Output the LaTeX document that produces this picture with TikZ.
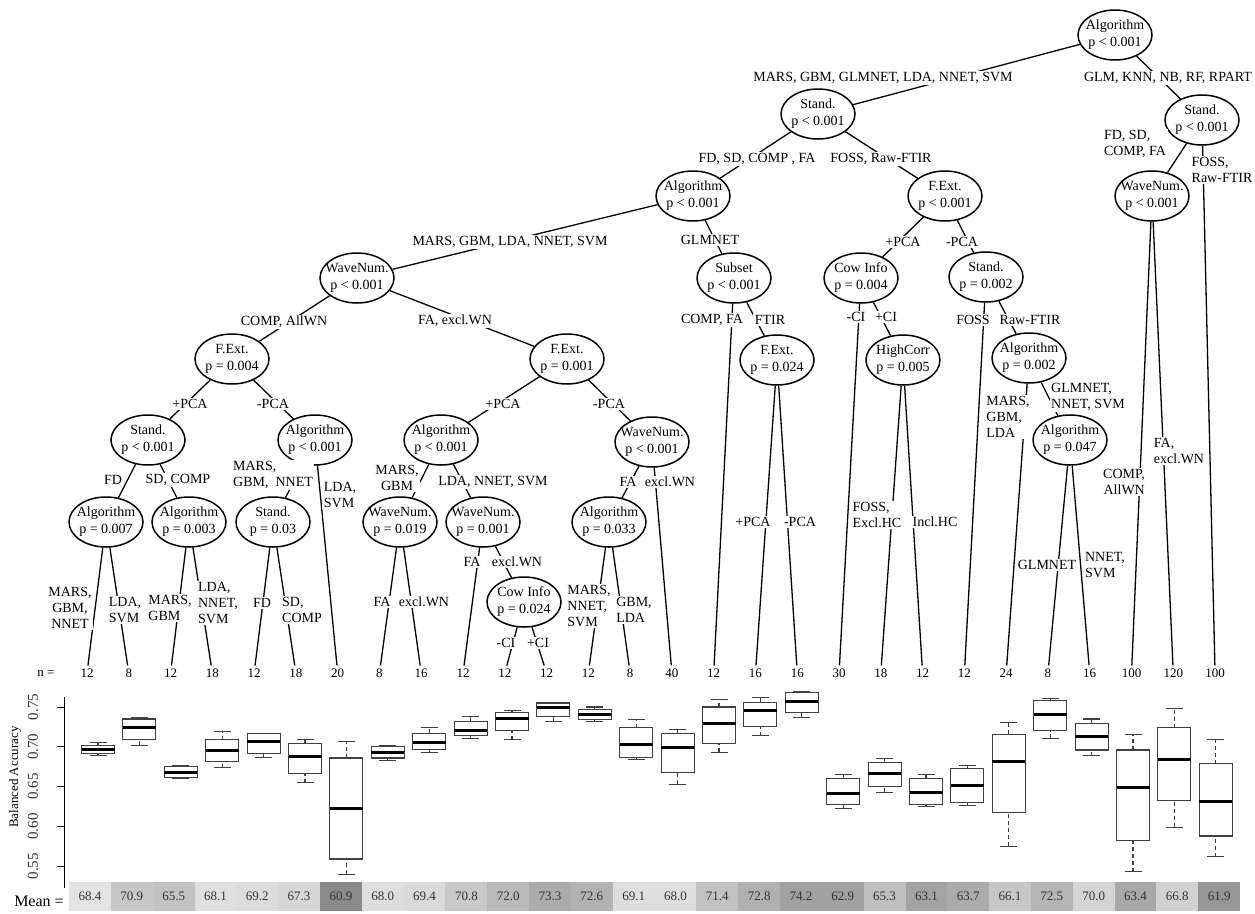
\documentclass[tikz,border=0pt]{standalone}
\usepackage{fontspec}
\setmainfont{Liberation Serif}
\usetikzlibrary{shapes.geometric}
\newcommand\treefont{\fontsize{14}{17}\selectfont}
\newcommand\labfont{\fontsize{14}{16}\selectfont}
\newcommand\smallfont{\fontsize{13}{15}\selectfont}
\newcommand\accy[1]{707+(0.75-#1)*796}
\tikzset{
  splitnode/.style={ellipse,draw,line width=1.5pt,minimum width=74pt,minimum height=50pt,inner sep=-14pt,align=center,font=\treefont,execute at begin node=\rule{0pt}{21pt}},
  edgelab/.style={fill=white,inner sep=1.5pt,font=\labfont,align=left},
  leafn/.style={inner sep=3pt,font=\smallfont},
  conn/.style={line width=1.3pt},
  meancell/.style={minimum width=41.82pt,minimum height=29pt,inner sep=0pt,font=\smallfont,text=black!80},
  boxln/.style={line width=1.1pt,draw=black!75},
}
\begin{document}
\begin{tikzpicture}[x=1pt,y=-1pt]
	\useasboundingbox (0,0) rectangle (1255,913);
	\fill[white] (0,0) rectangle (1255,913);
	\node[splitnode] (root) at (1115,35) {Algorithm\\p < 0.001};
	\node[splitnode] (standL) at (818,114) {Stand.\\p < 0.001};
	\node[splitnode] (standR) at (1202,120) {Stand.\\p < 0.001};
	\node[splitnode] (algA) at (693,196) {Algorithm\\p < 0.001};
	\node[splitnode] (fextA) at (945,196) {F.Ext.\\p < 0.001};
	\node[splitnode] (waveR) at (1152,196) {WaveNum.\\p < 0.001};
	\node[splitnode] (waveL) at (357,278) {WaveNum.\\p < 0.001};
	\node[splitnode] (subset) at (734,278) {Subset\\p < 0.001};
	\node[splitnode] (cowA) at (861,278) {Cow Info\\p = 0.004};
	\node[splitnode] (standD) at (986,277) {Stand.\\p = 0.002};
	\node[splitnode] (fextL) at (232,359) {F.Ext.\\p = 0.004};
	\node[splitnode] (fextM) at (567,359) {F.Ext.\\p = 0.001};
	\node[splitnode] (fextS) at (777,360) {F.Ext.\\p = 0.024};
	\node[splitnode] (hicorr) at (903,360) {HighCorr\\p = 0.005};
	\node[splitnode] (algB) at (1029,358) {Algorithm\\p = 0.002};
	\node[splitnode] (standE) at (148,440) {Stand.\\p < 0.001};
	\node[splitnode] (algC) at (315,440) {Algorithm\\p < 0.001};
	\node[splitnode] (algD) at (441,440) {Algorithm\\p < 0.001};
	\node[splitnode] (waveM) at (652,442) {WaveNum.\\p < 0.001};
	\node[splitnode] (algE) at (1070,440) {Algorithm\\p = 0.047};
	\node[splitnode] (algF) at (106,522) {Algorithm\\p = 0.007};
	\node[splitnode] (algG) at (189,522) {Algorithm\\p = 0.003};
	\node[splitnode] (standF) at (273,522) {Stand.\\p = 0.03};
	\node[splitnode] (waveN) at (400,522) {WaveNum.\\p = 0.019};
	\node[splitnode] (waveO) at (483,522) {WaveNum.\\p = 0.001};
	\node[splitnode] (algH) at (609,522) {Algorithm\\p = 0.033};
	\node[splitnode] (cowB) at (524,602) {Cow Info\\p = 0.024};
	\node[leafn] (nlab) at (46,673) {n =};
	\foreach \nn [count=\i from 0] in {12,8,12,18,12,18,20,8,16,12,12,12,12,8,40,12,16,16,30,18,12,12,24,8,16,100,120,100}
		\node[leafn] (n\i) at ({87+41.78*\i},673) {\nn};
	\draw[conn] (root)--(standL) (root)--(standR);
	\draw[conn] (standL)--(algA) (standL)--(fextA) (standR)--(waveR) (standR)--(n27);
	\draw[conn] (algA)--(waveL) (algA)--(subset) (fextA)--(cowA) (fextA)--(standD);
	\draw[conn] (waveR)--(n25) (waveR)--(n26);
	\draw[conn] (waveL)--(fextL) (waveL)--(fextM) (subset)--(n15) (subset)--(fextS);
	\draw[conn] (cowA)--(n18) (cowA)--(hicorr) (standD)--(n21) (standD)--(algB);
	\draw[conn] (fextL)--(standE) (fextL)--(algC) (fextM)--(algD) (fextM)--(waveM);
	\draw[conn] (fextS)--(n16) (fextS)--(n17) (hicorr)--(n19) (hicorr)--(n20);
	\draw[conn] (algB)--(n22) (algB)--(algE) (algE)--(n23) (algE)--(n24);
	\draw[conn] (standE)--(algF) (standE)--(algG) (algC)--(standF) (algC)--(n6);
	\draw[conn] (algD)--(waveN) (algD)--(waveO) (waveM)--(algH) (waveM)--(n14);
	\draw[conn] (algF)--(n0) (algF)--(n1) (algG)--(n2) (algG)--(n3);
	\draw[conn] (standF)--(n4) (standF)--(n5) (waveN)--(n7) (waveN)--(n8);
	\draw[conn] (waveO)--(n9) (waveO)--(cowB) (cowB)--(n10) (cowB)--(n11);
	\draw[conn] (algH)--(n12) (algH)--(n13);
	\node[edgelab] (eRootL) at (883,78) {MARS, GBM, GLMNET, LDA, NNET, SVM};
	\node[edgelab] (eRootR) at (1168,78) {GLM, KNN, NB, RF, RPART};
	\node[edgelab] (eStLa) at (757,159) {FD, SD, COMP , FA};
	\node[edgelab] (eStLb) at (881,159) {FOSS, Raw-FTIR};
	\node[edgelab] (eStRa) at (1135,144) {FD, SD,\\COMP, FA};
	\node[edgelab] (eStRb) at (1222,170) {FOSS,\\Raw-FTIR};
	\node[edgelab] (eAlgAa) at (510,242) {MARS, GBM, LDA, NNET, SVM};
	\node[edgelab] (eAlgAb) at (710,240) {GLMNET};
	\node[edgelab] (eFxAa) at (903,242) {+PCA};
	\node[edgelab] (eFxAb) at (962,242) {-PCA};
	\node[edgelab,align=right] (eWvRa) at (1124,482) {COMP,\\AllWN};
	\node[edgelab] (eWvRb) at (1179,451) {FA,\\excl.WN};
	\node[edgelab] (eWvLa) at (284,322) {COMP, AllWN};
	\node[edgelab] (eWvLb) at (455,321) {FA, excl.WN};
	\node[edgelab] (eSubA) at (712,320) {COMP, FA};
	\node[edgelab] (eSubB) at (770,320) {FTIR};
	\node[edgelab] (eCowAa) at (856,317) {-CI};
	\node[edgelab] (eCowAb) at (886,317) {+CI};
	\node[edgelab] (eStDa) at (973,320) {FOSS};
	\node[edgelab] (eStDb) at (1030,320) {Raw-FTIR};
	\node[edgelab] (eFxLa) at (190,404) {+PCA};
	\node[edgelab] (eFxLb) at (273,404) {-PCA};
	\node[edgelab] (eFxMa) at (503,404) {+PCA};
	\node[edgelab] (eFxMb) at (609,404) {-PCA};
	\node[edgelab] (eFxSa) at (753,522) {+PCA};
	\node[edgelab] (eFxSb) at (800,522) {-PCA};
	\node[edgelab] (eHiCa) at (877,515) {FOSS,\\Excl.HC};
	\node[edgelab] (eHiCb) at (935,522) {Incl.HC};
	\node[edgelab] (eAlgBa) at (1008,417) {MARS,\\GBM,\\LDA};
	\node[edgelab] (eAlgBb) at (1088,397) {GLMNET,\\NNET, SVM};
	\node[edgelab] (eAlgEa) at (1047,565) {GLMNET};
	\node[edgelab] (eAlgEb) at (1105,565) {NNET,\\SVM};
	\node[edgelab] (eStEa) at (113,480) {FD};
	\node[edgelab] (eStEb) at (178,480) {SD, COMP};
	\node[edgelab] (eAlgCa) at (273,475) {MARS,\\GBM,\enspace NNET};
	\node[edgelab] (eAlgCb) at (340,495) {LDA,\\SVM};
	\node[edgelab,align=center] (eAlgDa) at (397,478) {MARS,\\GBM};
	\node[edgelab] (eAlgDb) at (493,482) {LDA, NNET, SVM};
	\node[edgelab] (eWvMa) at (628,482) {FA};
	\node[edgelab] (eWvMb) at (670,482) {excl.WN};
	\node[edgelab,align=center] (eAlgFa) at (70,608) {MARS,\\GBM,\\NNET};
	\node[edgelab] (eAlgFb) at (125,610) {LDA,\\SVM};
	\node[edgelab] (eAlgGa) at (170,608) {MARS,\\GBM};
	\node[edgelab] (eAlgGb) at (218,603) {LDA,\\NNET,\\SVM};
	\node[edgelab] (eStFa) at (262,603) {FD};
	\node[edgelab] (eStFb) at (302,610) {SD,\\COMP};
	\node[edgelab] (eWvNa) at (382,602) {FA};
	\node[edgelab] (eWvNb) at (424,602) {excl.WN};
	\node[edgelab] (eWvOa) at (472,562) {FA};
	\node[edgelab] (eWvOb) at (517,562) {excl.WN};
	\node[edgelab] (eCowBa) at (506,643) {-CI};
	\node[edgelab] (eCowBb) at (538,643) {+CI};
	\node[edgelab] (eAlgHa) at (589,606) {MARS,\\NNET,\\SVM};
	\node[edgelab] (eAlgHb) at (634,610) {GBM,\\LDA};
	\draw[line width=1pt] (64,697) -- (64,888);
	\foreach \t [count=\k] in {0.55,0.60,0.65,0.70,0.75}{
		\draw[line width=1pt] (57,{\accy{\t}}) -- (64,{\accy{\t}});
		\node[rotate=90,font=\fontsize{15}{15}\selectfont,text=black!80] (tk\k) at (33,{\accy{\t}}) {\t};
	}
	\node[rotate=90,font=\smallfont] (ylab) at (15,777) {Balanced Accuracy};
	\foreach \lo/\qa/\md/\qb/\hi [count=\i from 0] in {
		.689/.692/.697/.702/.705, .702/.709/.724/.735/.737, .660/.662/.668/.675/.677, .674/.681/.695/.709/.719,
		.687/.692/.707/.717/.717, .655/.666/.688/.704/.709, .540/.559/.623/.686/.707, .683/.686/.693/.700/.701,
		.693/.697/.706/.717/.724, .711/.714/.720/.732/.738, .709/.721/.735/.743/.746, .732/.738/.749/.755/.756,
		.732/.734/.740/.747/.750, .684/.687/.703/.724/.734, .653/.668/.699/.717/.722, .693/.704/.729/.750/.760,
		.714/.726/.745/.756/.762, .737/.743/.757/.768/.770, .622/.627/.641/.660/.665, .643/.650/.667/.680/.685,
		.625/.628/.643/.660/.665, .626/.630/.651/.673/.677, .575/.617/.681/.716/.731, .711/.720/.741/.758/.761,
		.689/.696/.713/.729/.735, .543/.582/.649/.696/.715, .599/.633/.684/.724/.748, .562/.588/.631/.679/.709}{
		\pgfmathsetmacro\bx{98+41.4*\i}
		\draw[boxln,dash pattern=on 4pt off 3pt] (\bx,{\accy{\lo}}) -- (\bx,{\accy{\qa}}) (\bx,{\accy{\qb}}) -- (\bx,{\accy{\hi}});
		\draw[boxln] (\bx-8.5,{\accy{\lo}}) -- (\bx+8.5,{\accy{\lo}}) (\bx-8.5,{\accy{\hi}}) -- (\bx+8.5,{\accy{\hi}});
		\draw[boxln] (\bx-16.5,{\accy{\qa}}) rectangle (\bx+16.5,{\accy{\qb}});
		\draw[line width=3pt] (\bx-16.5,{\accy{\md}}) -- (\bx+16.5,{\accy{\md}});
	}
	\node[font=\fontsize{16}{16}\selectfont] (meanlab) at (39,901) {Mean =};
	\foreach \m [count=\i from 0] in {68.4,70.9,65.5,68.1,69.2,67.3,60.9,68.0,69.4,70.8,72.0,73.3,72.6,69.1,68.0,71.4,72.8,74.2,62.9,65.3,63.1,63.7,66.1,72.5,70.0,63.4,66.8,61.9}{
		\pgfmathtruncatemacro\shd{(230-12*abs(\m-68.5))/2.55}
		\node[meancell,fill=white!\shd!black] (m\i) at ({90+41.82*\i},896.5) {\m};
	}
\end{tikzpicture}
\end{document}
